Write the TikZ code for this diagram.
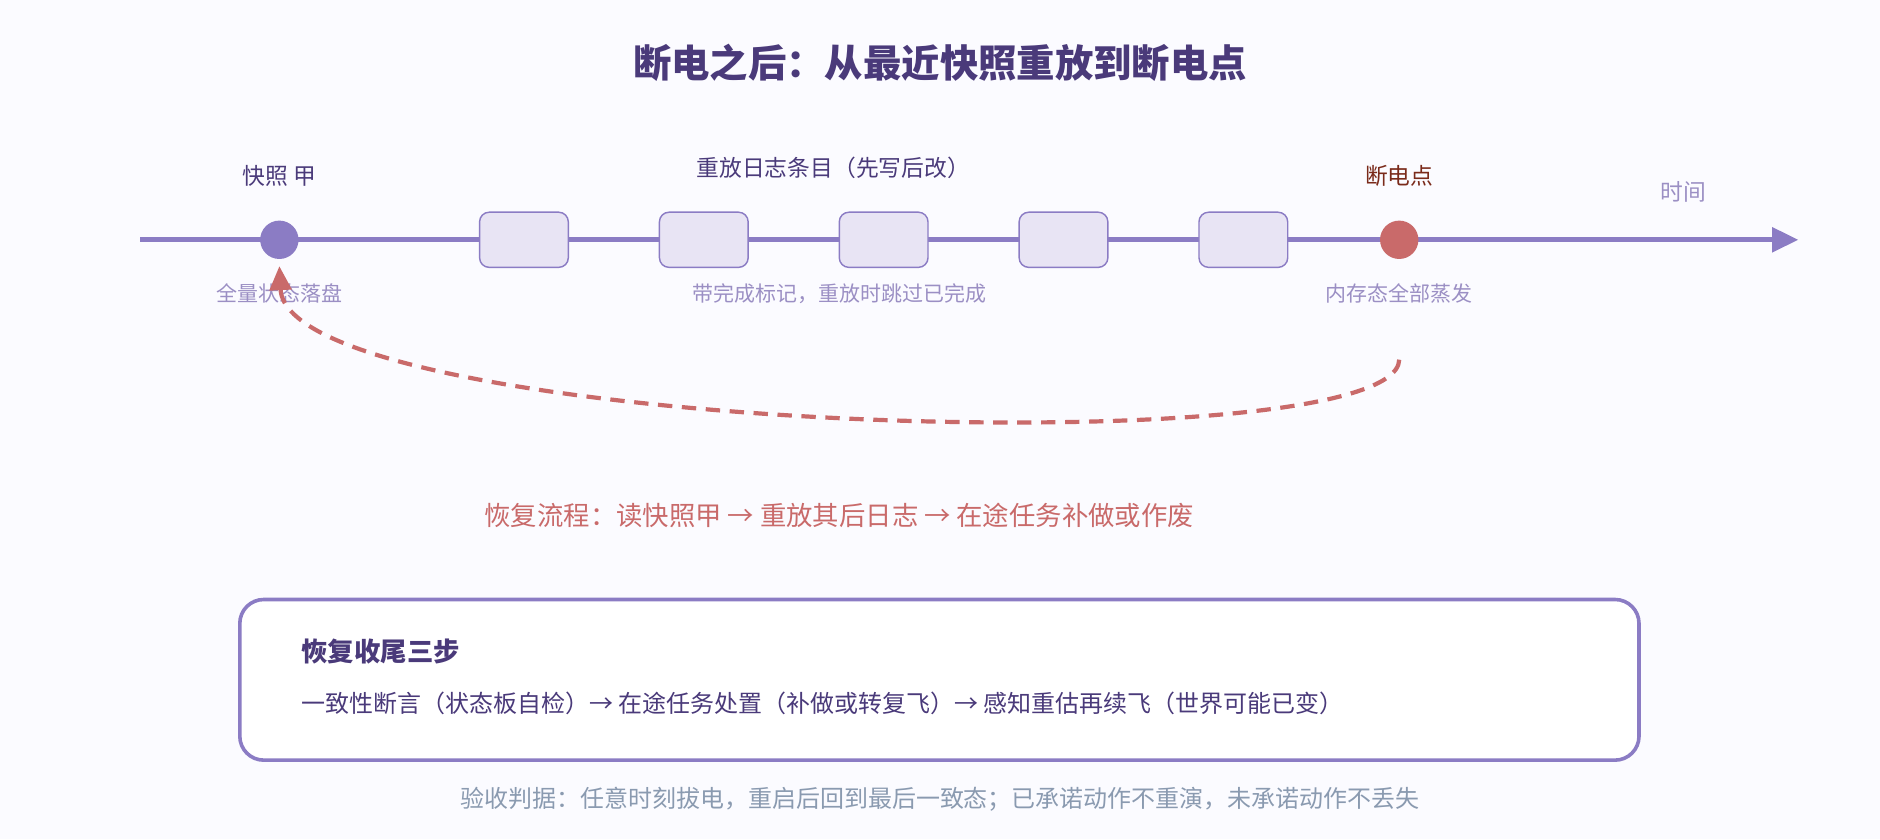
\documentclass[tikz,border=0pt]{standalone}
\usepackage{fontspec}
\setmainfont{Noto Sans CJK SC}
\usetikzlibrary{arrows.meta}
\definecolor{pur}{HTML}{8B7CC4}
\definecolor{dpur}{HTML}{4A3A7A}
\definecolor{lpur}{HTML}{9B8FC4}
\definecolor{red}{HTML}{C96A6A}
\definecolor{dred}{HTML}{7A2A1A}
\definecolor{boxf}{HTML}{E8E4F4}
\definecolor{grey}{HTML}{8A9AB0}
\definecolor{bg}{HTML}{FBFBFF}
\begin{document}
\begin{tikzpicture}[x=1pt,y=-1pt,
  lbl/.style={font=\fontsize{19}{21}\selectfont,text=dpur},
  sub/.style={font=\fontsize{17.5}{19}\selectfont,text=lpur},
  entry/.style={draw=pur,line width=1.2pt,fill=boxf,rounded corners=8pt,minimum width=74pt,minimum height=46pt}]
\fill[bg] (0,0) rectangle (1568,700);
\useasboundingbox (0,0) rectangle (1568,700);
\node[font=\fontsize{32}{36}\selectfont\bfseries,text=dpur] (title) at (784,52) {断电之后：从最近快照重放到断电点};
\coordinate (s) at (117,200); \coordinate (e) at (1500,200);
\draw[pur,line width=4.5pt,-{Triangle[length=22pt,width=20pt]}] (s) -- (e);
\foreach \x/\n in {437/a,587/b,737/c,887/d,1037/f} \node[entry] (\n) at (\x,200) {};
\node[circle,fill=pur,minimum size=32pt,inner sep=0] (snap) at (233,200) {};
\node[circle,fill=red,minimum size=32pt,inner sep=0] (cut) at (1167,200) {};
\node[lbl] (l1) at (233,147) {快照 甲};
\node[lbl] (l2) at (695,140) {重放日志条目（先写后改）};
\node[lbl,text=dred] (l3) at (1167,147) {断电点};
\node[lbl,text=lpur] (l4) at (1404,160) {时间};
\node[sub] (s1) at (233,245) {全量状态落盘};
\node[sub] (s2) at (700,245) {带完成标记，重放时跳过已完成};
\node[sub] (s3) at (1167,245) {内存态全部蒸发};
\coordinate (cs) at (1167,300); \coordinate (ce) at (233,222);
\draw[red,line width=3.5pt,dash pattern=on 12pt off 8pt,-{Triangle[length=20pt,width=18pt]}] (cs) .. controls (1165,390) and (240,360) .. (ce);
\node[font=\fontsize{22}{25}\selectfont,text=red] (flow) at (700,430) {恢复流程：读快照甲 → 重放其后日志 → 在途任务补做或作废};
\node[draw=pur,line width=3pt,fill=white,rounded corners=20pt,minimum width=1167pt,minimum height=134pt] (box) at (783.5,567) {};
\node[anchor=west,font=\fontsize{22}{25}\selectfont\bfseries,text=dpur] (bt) at (248,543) {恢复收尾三步};
\node[anchor=west,font=\fontsize{20}{22}\selectfont,text=dpur] (bl) at (248,587) {一致性断言（状态板自检）→ 在途任务处置（补做或转复飞）→ 感知重估再续飞（世界可能已变）};
\node[font=\fontsize{20}{22}\selectfont,text=grey] (foot) at (784,667) {验收判据：任意时刻拔电，重启后回到最后一致态；已承诺动作不重演，未承诺动作不丢失};
\end{tikzpicture}
\end{document}
